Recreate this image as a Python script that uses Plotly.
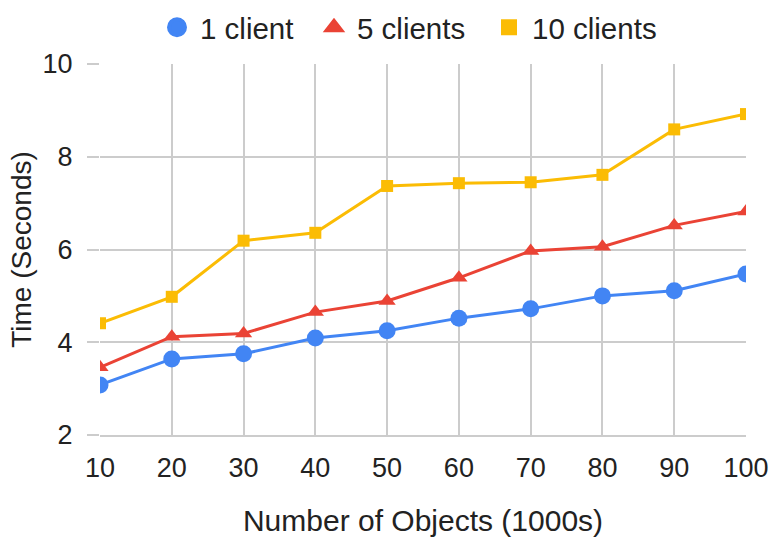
import plotly.graph_objects as go

objects_k = [10, 20, 30, 40, 50, 60, 70, 80, 90, 100]
one_client = [3.08, 3.64, 3.75, 4.09, 4.25, 4.52, 4.72, 5.00, 5.11, 5.47]
five_clients = [3.46, 4.12, 4.19, 4.65, 4.89, 5.39, 5.97, 6.06, 6.52, 6.82]
ten_clients = [4.41, 4.98, 6.19, 6.36, 7.37, 7.43, 7.45, 7.61, 8.59, 8.92]

y_ticks = [2, 4, 6, 8, 10]

# name, values, colour, symbol, plot marker size, legend outline, legend entry width
series = [
    ("1 client", one_client, "#4285F4", "circle", 17, 4, 106),
    ("5 clients", five_clients, "#EA4335", "triangle-up", 15, 2, 124),
    ("10 clients", ten_clients, "#FBBC04", "square", 12, 0, 125),
]

fig = go.Figure()
for name, values, color, symbol, size, outline, entry_w in series:
    # the line with its markers
    fig.add_trace(go.Scatter(
        x=objects_k, y=values, name=name, mode="lines+markers",
        line=dict(color=color, width=3),
        marker=dict(color=color, symbol=symbol, size=size),
        legendgroup=name, showlegend=False,
    ))
    # marker-only legend entry
    fig.add_trace(go.Scatter(
        x=[None], y=[None], name=name, mode="markers",
        marker=dict(color=color, symbol=symbol, size=16,
                    line=dict(color=color, width=outline)),
        legendgroup=name, showlegend=True, legendwidth=entry_w,
    ))

font = "Liberation Sans, Arial, sans-serif"
fig.update_layout(
    width=773, height=537,
    margin=dict(l=100, r=27, t=64, b=102, autoexpand=False),
    paper_bgcolor="white", plot_bgcolor="white",
    font=dict(family=font, size=27, color="#222222"),
    legend=dict(orientation="h", x=154 / 773, xanchor="left", xref="container",
                y=0.997, yanchor="top", yref="container", font=dict(size=29.5),
                itemsizing="trace", itemwidth=36, traceorder="normal"),
    showlegend=True,
)
fig.update_xaxes(
    range=[10, 100], tickvals=objects_k, showgrid=True, gridcolor="#cccccc",
    gridwidth=2, zeroline=False, showline=True, linecolor="#cccccc", linewidth=2,
    title=dict(text="Number of Objects (1000s)", font=dict(size=30), standoff=28),
    tickfont=dict(size=27), ticks="", ticklabelstandoff=8, automargin=False,
)
fig.update_yaxes(
    range=[2, 10], tickvals=y_ticks, showgrid=True, gridcolor="#cccccc",
    gridwidth=2, zeroline=False, showline=False,
    ticks="outside", ticklen=12, tickcolor="#cccccc", tickwidth=2,
    title=dict(text="Time (Seconds)", font=dict(size=28), standoff=2),
    tickfont=dict(size=27), ticklabelstandoff=9, automargin=False,
)

fig.write_html("out.html")
